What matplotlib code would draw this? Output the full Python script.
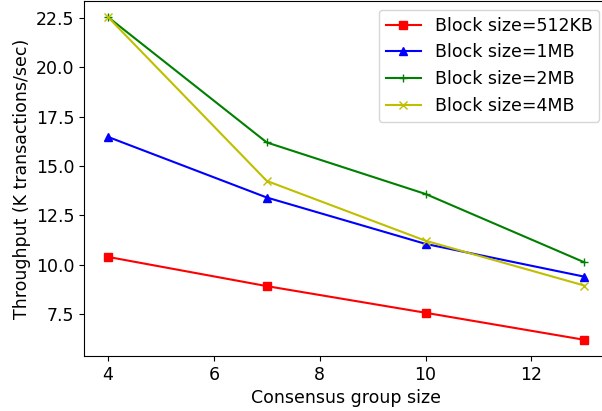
import numpy as np
import matplotlib
matplotlib.use("Agg")
import matplotlib.pyplot as plt
from matplotlib.ticker import MultipleLocator

plt.rcParams['font.size'] = 12.5

group_size = [4, 7, 10, 13]
tp_512kb = [10.4, 8.92, 7.57, 6.2]
tp_1mb = [16.48, 13.41, 11.06, 9.4]
tp_2mb = [22.55, 16.2, 13.59, 10.13]
tp_4mb = [22.55, 14.25, 11.22, 8.95]

fig = plt.figure(figsize=(6.02, 4.11), dpi=100)
ax = fig.add_axes([0.140, 0.134, 0.870, 0.8635])

ax.plot(group_size, tp_512kb, 'r-s', label="Block size=512KB")
ax.plot(group_size, tp_1mb, 'b-^', label="Block size=1MB")
ax.plot(group_size, tp_2mb, 'g-+', label="Block size=2MB")
ax.plot(group_size, tp_4mb, 'y-x', label="Block size=4MB")

ax.yaxis.set_major_locator(MultipleLocator(2.5))
ax.set_xlabel("Consensus group size")
ax.set_ylabel("Throughput (K transactions/sec)")
ax.legend(loc="upper right")

fig.savefig("out.png", dpi=100)
